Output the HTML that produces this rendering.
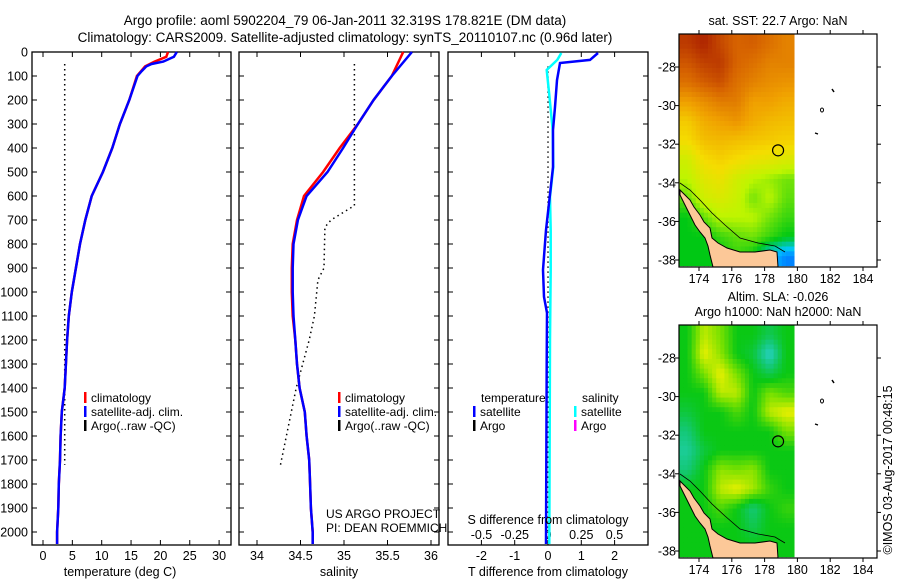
<!DOCTYPE html>
<html><head><meta charset="utf-8">
<style>
html,body{margin:0;padding:0;background:#fff;}
svg{display:block;font-family:"Liberation Sans",sans-serif;}
</style></head>
<body>
<svg id="fig" width="900" height="580" viewBox="0 0 900 580">
<g font-size="13.5" text-anchor="middle" fill="#000">
<text x="345" y="25">Argo profile: aoml 5902204_79 06-Jan-2011 32.319S 178.821E (DM data)</text>
<text x="345" y="42">Climatology: CARS2009. Satellite-adjusted climatology: synTS_20110107.nc (0.96d later)</text>
<text x="778" y="25" font-size="12.5">sat. SST: 22.7 Argo: NaN</text>
<text x="778" y="301" font-size="12.5">Altim. SLA: -0.026</text>
<text x="778" y="316" font-size="12.5">Argo h1000: NaN h2000: NaN</text>
<text transform="translate(892,470) rotate(-90)" font-size="12.5">©IMOS 03-Aug-2017 00:48:15</text>
</g>
</svg>
<script>
// ---------- data ----------
const depthTicks=[0,100,200,300,400,500,600,700,800,900,1000,1100,1200,1300,1400,1500,1600,1700,1800,1900,2000];
const tempTicks=[0,5,10,15,20,25,30];
const salTicks=[34,34.5,35,35.5,36];
const tdiffTicks=[-2,-1,0,1,2];
const sdiffTicks=[-0.5,-0.25,0,0.25,0.5];
const sdiffTickLabels=["-0.5","-0.25","0","0.25","0.5"];

const tClimDepth=[0,20,40,60,100,200,300,400,500,600,700,800,900,1000,1100,1200,1300,1400,1500,1600,1700,1800,1900,2000,2050];
const tClim=[21.3,21.0,19.0,17.4,16.0,14.7,13.1,11.8,10.2,8.3,7.2,6.3,5.6,4.9,4.4,4.1,3.9,3.7,3.2,3.0,2.9,2.7,2.6,2.4,2.4];
const tSatDepth=[0,20,40,50,60,80,100,200,300,400,500,600,700,800,900,1000,1100,1200,1300,1400,1500,1600,1700,1800,1900,2000,2050];
const tSat=[22.8,22.3,20.5,18.5,17.6,16.8,16.1,14.7,13.1,11.8,10.2,8.3,7.2,6.3,5.6,4.9,4.4,4.1,3.9,3.7,3.2,3.0,2.9,2.7,2.6,2.4,2.4];
const tArgoDepth=[50,1720];
const tArgo=[3.7,3.7];

const sClimDepth=[0,100,200,300,400,500,600,700,800,900,1000,1100,1200,1300,1400,1500,1600,1700,1800,1900,2000,2050];
const sClim=[35.68,35.55,35.34,35.16,34.95,34.76,34.54,34.46,34.41,34.40,34.40,34.41,34.44,34.46,34.49,34.55,34.57,34.60,34.61,34.62,34.64,34.64];
const sSat=[35.78,35.55,35.34,35.16,34.99,34.81,34.57,34.47,34.42,34.41,34.41,34.42,34.44,34.46,34.49,34.55,34.57,34.60,34.61,34.62,34.64,34.64];
const sArgoDepth=[50,640,700,730,900,950,1100,1200,1400,1720];
const sArgo=[35.12,35.12,34.85,34.78,34.77,34.70,34.66,34.60,34.45,34.27];

const dTDepth=[4,33,46,117,229,325,479,604,742,908,1020,1087,1300,2050];
const dT=[1.5,1.26,0.36,0.27,0.21,0.15,0.15,0.05,-0.06,-0.15,-0.12,-0.03,-0.04,-0.06];
const dSDepth=[4,33,75,179,325,479,604,742,908,1200,2050];
const dS=[0.1,0.07,-0.01,0.01,0.035,0.04,0.015,0.02,0.02,0.015,0.01];

const lonTicks=[174,176,178,180,182,184];
const latTicks=[-28,-30,-32,-34,-36,-38];
const gridLats=[-26.3,-27.3,-28.3,-29.3,-30.3,-31.3,-32.3,-33.3,-34.3,-35.3,-36.3,-37.3];
const gridLons=[172.8,173.8,174.8,175.8,176.8,177.8,178.8];
const sstGrid=[
[24.6,24.9,24.4,24.0,24.1,23.8,23.5],
[24.2,24.5,24.6,24.0,23.8,23.5,23.5],
[23.8,24.1,24.3,23.8,23.5,23.3,23.2],
[23.0,23.3,23.6,23.6,23.0,23.0,22.8],
[22.3,22.8,23.0,23.2,22.8,22.6,22.5],
[22.0,22.5,22.6,22.5,22.4,22.3,22.2],
[21.3,22.0,22.2,22.0,21.8,21.7,21.5],
[21.0,21.6,21.8,21.3,21.0,20.8,20.6],
[20.5,21.3,21.5,21.2,20.6,21.0,20.5],
[20.0,20.5,21.0,21.0,21.0,20.6,20.3],
[20.0,20.0,20.3,20.5,20.6,20.3,20.0],
[20.0,20.0,20.0,20.3,20.0,19.0,18.5]];
const slaGrid=[
[0.0,0.08,0.05,0.0,0.0,-0.03,0.0],
[0.0,0.10,0.06,0.0,-0.02,-0.10,0.0],
[0.0,0.05,0.10,0.05,0.0,-0.03,0.0],
[0.0,0.0,0.08,0.08,0.0,0.05,0.03],
[-0.02,0.0,0.0,0.03,0.0,0.08,0.10],
[-0.05,0.0,0.0,0.0,0.0,0.0,0.05],
[-0.07,-0.02,0.0,0.0,0.0,0.0,0.0],
[-0.05,0.0,0.06,0.05,0.06,0.0,0.0],
[0.0,0.0,0.08,0.10,0.07,0.02,0.0],
[0.0,0.0,0.03,0.0,-0.05,0.0,0.02],
[0.0,0.0,0.0,0.0,-0.03,0.0,0.0],
[0.0,0.0,0.0,0.0,0.0,0.0,0.0]];
const argoLon=178.821, argoLat=-32.319;

// ---------- helpers ----------
const NS="http://www.w3.org/2000/svg";
const svg=document.getElementById('fig');
function mk(tag,attrs,parent){const e=document.createElementNS(NS,tag);for(const k in attrs)e.setAttribute(k,attrs[k]);(parent||svg).appendChild(e);return e;}
function txt(x,y,s,anchor,size,parent){const t=mk('text',{x:x,y:y,'text-anchor':anchor||'middle','font-size':size||12.5},parent);t.textContent=s;return t;}
const Y=d=>52+d*0.24;
const PB=545;

function panel(x0,x1,name){
  const g=mk('g',{});
  
  
  mk('rect',{x:x0,y:52,width:x1-x0,height:PB-52,fill:'none',stroke:'#000','stroke-width':1.3},g);
  depthTicks.forEach(d=>{mk('line',{x1:x0,x2:x0+5,y1:Y(d),y2:Y(d),stroke:'#000'},g);mk('line',{x1:x1-5,x2:x1,y1:Y(d),y2:Y(d),stroke:'#000'},g);});
  return g;
}
function line(g,xs,ds,fx,color,w,dash,name){
  const pts=xs.map((v,i)=>fx(v).toFixed(1)+','+Y(ds[i]).toFixed(1)).join(' ');
  const p=mk('polyline',{points:pts,fill:'none',stroke:color,'stroke-width':w},g);
  if(dash)p.setAttribute('stroke-dasharray',dash);
  
  
  return p;
}

// ---------- panel 1: temperature ----------
const fxT=v=>43+v*5.87;
const g1=panel(32,231,'temperature-panel');
depthTicks.forEach(d=>{const t=txt(28,Y(d)+4.5,String(d),'end',12.5);});
tempTicks.forEach(v=>{mk('line',{x1:fxT(v),x2:fxT(v),y1:52,y2:57,stroke:'#000'},g1);mk('line',{x1:fxT(v),x2:fxT(v),y1:PB-5,y2:PB,stroke:'#000'},g1);const t=txt(fxT(v),560,String(v),'middle',12.5,g1);});
line(g1,tArgo,tArgoDepth,fxT,'#000',1.5,'1.5,3.5','temp-argo-line');
line(g1,tClim,tClimDepth,fxT,'#f00',2.5,null,'temp-clim-line');
line(g1,tSat,tSatDepth,fxT,'#00f',2.5,null,'temp-sat-line');
{const t=txt(120,576,'temperature (deg C)','middle',12.5,g1);}

function legend(g,x,y,items,pref){
  items.forEach((it,i)=>{
    mk('rect',{x:x,y:y+i*14-10,width:2.5,height:11,fill:it[0]},g);
    const t=txt(x+7,y+i*14,it[1],'start',12,g);
    
    
  });
}
legend(g1,84,402,[['#f00','climatology'],['#00f','satellite-adj. clim.'],['#000','Argo(..raw -QC)']],'temp');

// ---------- panel 2: salinity ----------
const fxS=v=>257+(v-34)*87;
const g2=panel(239,439,'salinity-panel');
salTicks.forEach(v=>{mk('line',{x1:fxS(v),x2:fxS(v),y1:52,y2:57,stroke:'#000'},g2);mk('line',{x1:fxS(v),x2:fxS(v),y1:PB-5,y2:PB,stroke:'#000'},g2);const t=txt(fxS(v),560,String(v),'middle',12.5,g2);});
line(g2,sArgo,sArgoDepth,fxS,'#000',1.5,'1.5,3.5','sal-argo-line');
line(g2,sClim,sClimDepth,fxS,'#f00',2.5,null,'sal-clim-line');
line(g2,sSat,sClimDepth,fxS,'#00f',2.5,null,'sal-sat-line');
{const t=txt(339,576,'salinity','middle',12.5,g2);}
legend(g2,338,402,[['#f00','climatology'],['#00f','satellite-adj. clim.'],['#000','Argo(..raw -QC)']],'sal');
{const t=txt(326,518,'US ARGO PROJECT','start',12,g2);
 const t2=txt(326,532,'PI: DEAN ROEMMICH','start',12,g2);}

// ---------- panel 3: differences ----------
const fxDT=v=>548+v*33.3;
const fxDS=v=>548+v*133;
const g3=panel(448,648,'difference-panel');
tdiffTicks.forEach(v=>{mk('line',{x1:fxDT(v),x2:fxDT(v),y1:52,y2:57,stroke:'#000'},g3);mk('line',{x1:fxDT(v),x2:fxDT(v),y1:PB-5,y2:PB,stroke:'#000'},g3);const t=txt(fxDT(v),560,String(v),'middle',12.5,g3);});
sdiffTicks.forEach((v,i)=>{const t=txt(fxDS(v),539,sdiffTickLabels[i],'middle',12.5,g3);});
line(g3,[0,0],[60,2054],fxDT,'#000',1.3,'1.5,3.5','zero-line');
line(g3,dS,dSDepth,fxDS,'#0ff',2.5,null,'sdiff-sat-line');
line(g3,dT,dTDepth,fxDT,'#00f',2.5,null,'tdiff-sat-line');
{const t=txt(548,524,'S difference from climatology','middle',12.5,g3);
 const t2=txt(548,576,'T difference from climatology','middle',12.5,g3);}
{const t=txt(481,402,'temperature','start',12,g3);
 const t2=txt(582,402,'salinity','start',12,g3);}
legend(g3,473,416,[['#00f','satellite'],['#000','Argo']],'tdiff');
legend(g3,574,416,[['#0ff','satellite'],['#f0f','Argo']],'sdiff');

// ---------- maps ----------
function sstColor(v){
  const stops=[[18,[0,64,255]],[19,[0,200,255]],[20,[0,200,20]],[21,[190,245,0]],[22,[245,220,0]],[23,[240,160,0]],[24,[215,100,0]],[25,[170,30,0]]];
  return interp(stops,v);
}
function slaColor(v){
  const stops=[[-0.1,[40,210,200]],[-0.05,[20,200,120]],[0,[10,200,20]],[0.05,[120,225,0]],[0.1,[235,240,0]]];
  return interp(stops,v);
}
function interp(stops,v){
  if(v<=stops[0][0])return 'rgb('+stops[0][1]+')';
  for(let i=1;i<stops.length;i++){if(v<=stops[i][0]){const a=stops[i-1],b=stops[i],t=(v-a[0])/(b[0]-a[0]);return 'rgb('+a[1].map((c,k)=>Math.round(c+(b[1][k]-c)*t)).join(',')+')';}}
  return 'rgb('+stops[stops.length-1][1]+')';
}
function sample(grid,fi,fj){
  const nr=grid.length,nc=grid[0].length;
  fi=Math.max(0,Math.min(nr-1,fi));fj=Math.max(0,Math.min(nc-1,fj));
  const i0=Math.floor(fi),j0=Math.floor(fj),i1=Math.min(nr-1,i0+1),j1=Math.min(nc-1,j0+1);
  const a=fi-i0,b=fj-j0;
  return grid[i0][j0]*(1-a)*(1-b)+grid[i0][j1]*(1-a)*b+grid[i1][j0]*a*(1-b)+grid[i1][j1]*a*b;
}
const landPts=[[680,190],[685,195],[690,200],[694,207],[700,215],[704,222],[710,228],[712,238],[718,243],[727,248],[740,252],[755,252],[770,250],[777,252],[778,267],[713,267],[710,255],[708,246],[705,238],[700,232],[695,225],[690,215],[684,203],[680,195]];
const shelfPts=[[680,183],[690,190],[700,200],[712,213],[725,225],[740,238],[758,243],[775,246],[785,252]];
function drawMap(top,grid,colorFn,name){
  const g=mk('g',{});
  
  
  const fx=lon=>699+(lon-174)*16.4;
  const fy=lat=>top+33+(-28-lat)*19.3;
  const L=679,R=877,T=top,B=top+233;
  const clip=mk('clipPath',{id:'clip'+name},g);mk('rect',{x:L,y:T,width:R-L,height:B-T},clip);
  const cg=mk('g',{'clip-path':'url(#clip'+name+')'},g);
  const sub=4,nr=grid.length,nc=grid[0].length;
  for(let i=0;i<nr*sub;i++)for(let j=0;j<nc*sub;j++){
    const v=sample(grid,(i+0.5)/sub-0.5,(j+0.5)/sub-0.5);
    const lon0=gridLons[0]+j/sub,lat0=gridLats[0]-i/sub;
    const x0=fx(lon0),y0=fy(lat0);
    const x1=Math.min(fx(lon0+1/sub),797);
    if(x1<=x0)continue;
    const c=mk('rect',{x:x0.toFixed(2),y:y0.toFixed(2),width:(x1-x0+0.4).toFixed(2),height:(19.3/sub+0.4).toFixed(2),fill:colorFn(v)},cg);
    
    
  }
  const off=top-34;
  mk('polyline',{points:shelfPts.map(p=>p[0]+','+(p[1]+off)).join(' '),fill:'none',stroke:'#000','stroke-width':0.8},cg);
  const land=mk('polygon',{points:landPts.map(p=>p[0]+','+(p[1]+off)).join(' '),fill:'#fcc898',stroke:'#000','stroke-width':1},cg);
  
  
  mk('polyline',{points:[[832,89+off],[834,92+off]].map(p=>p.join(',')).join(' '),stroke:'#000',fill:'none','stroke-width':1.5},g);
  mk('ellipse',{cx:822,cy:110+off,rx:1.5,ry:2,fill:'none',stroke:'#000'},g);
  mk('line',{x1:815,x2:818,y1:133+off,y2:134+off,stroke:'#000','stroke-width':1.3},g);
  mk('rect',{x:L,y:T,width:R-L,height:B-T,fill:'none',stroke:'#000','stroke-width':1.2},g);
  lonTicks.forEach(v=>{mk('line',{x1:fx(v),x2:fx(v),y1:T-4,y2:T,stroke:'#000'},g);mk('line',{x1:fx(v),x2:fx(v),y1:B,y2:B+4,stroke:'#000'},g);const t=txt(fx(v),B+16,String(v),'middle',12.5,g);});
  latTicks.forEach(v=>{mk('line',{x1:L-4,x2:L,y1:fy(v),y2:fy(v),stroke:'#000'},g);mk('line',{x1:R,x2:R+4,y1:fy(v),y2:fy(v),stroke:'#000'},g);const t=txt(L-3,fy(v)+4.5,String(v),'end',12.5,g);});
  const c=mk('circle',{cx:fx(argoLon),cy:fy(argoLat),r:5.5,fill:'none',stroke:'#000','stroke-width':1.2},g);
  
  
}
drawMap(34,sstGrid,sstColor,'sst-map');
drawMap(325,slaGrid,slaColor,'sla-map');
</script>
</body></html>
